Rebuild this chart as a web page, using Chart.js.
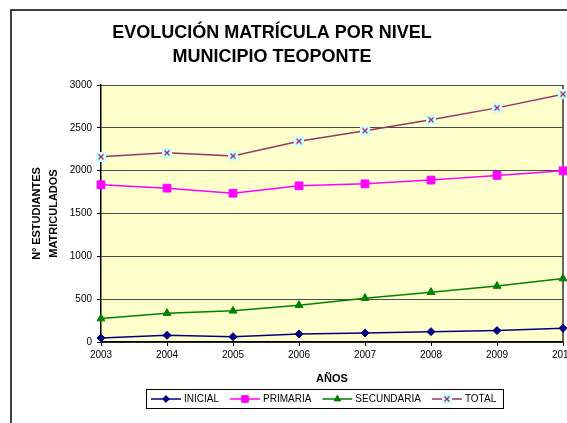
<!DOCTYPE html>
<html>
<head>
<meta charset="utf-8">
<script src="https://cdn.jsdelivr.net/npm/chart.js@4/dist/chart.umd.min.js"></script>
<style>
  html, body { margin: 0; padding: 0; background: #fff; }
  #wrap { width: 567px; height: 423px; overflow: hidden; }
  canvas { display: block; }
</style>
</head>
<body>
<div id="wrap"><canvas id="chart" width="620" height="423"></canvas></div>
<script>
// Data
const years = ['2003', '2004', '2005', '2006', '2007', '2008', '2009', '2010'];
const inicial = [47, 78, 62, 94, 106, 121, 133, 160];
const primaria = [1835, 1796, 1737, 1823, 1846, 1890, 1945, 1998];
const secundaria = [273, 336, 364, 430, 512, 582, 653, 740];
const total = [2162, 2208, 2170, 2344, 2466, 2594, 2733, 2893];
const seriesNames = ['INICIAL', 'PRIMARIA', 'SECUNDARIA', 'TOTAL'];
const yMin = 0, yMax = 3000, yStep = 500;
const titleLines = ['EVOLUCIÓN MATRÍCULA POR NIVEL', 'MUNICIPIO TEOPONTE'];
const yAxisTitle = ['Nº ESTUDIANTES', 'MATRICULADOS'];
const xAxisTitle = 'AÑOS';

// cyan box with an x, like the Excel marker
function totalMarker(size) {
    const c = document.createElement('canvas');
    c.width = size; c.height = size;
    const g = c.getContext('2d');
    g.fillStyle = '#CCFFFF';
    g.fillRect(0, 0, size, size);
    g.strokeStyle = '#993366';
    g.lineWidth = 1.4;
    const p = size * 0.25;
    g.beginPath();
    g.moveTo(p, p); g.lineTo(size - p, size - p);
    g.moveTo(size - p, p); g.lineTo(p, size - p);
    g.stroke();
    return c;
}

function makeSet(label, data, color, style, radius) {
    return {
        label: label,
        data: data,
        borderColor: color,
        backgroundColor: color,
        borderWidth: 1.5,
        pointStyle: style,
        pointRadius: radius,
        pointBorderWidth: 1,
        tension: 0,
        clip: false
    };
}

const framePlugin = {
    id: 'frame',
    beforeDraw(chart) {
        const ctx = chart.ctx, a = chart.chartArea;
        ctx.save();
        ctx.fillStyle = '#fff';
        ctx.fillRect(0, 0, chart.width, chart.height);
        ctx.fillStyle = '#FFFFCC';
        ctx.fillRect(a.left, a.top, a.right - a.left, a.bottom - a.top);
        ctx.strokeStyle = '#000';
        ctx.lineWidth = 1.5;
        ctx.strokeRect(11, 10, chart.width + 50, chart.height + 50);
        ctx.restore();
    },
    beforeDatasetsDraw(chart) {
        const ctx = chart.ctx, a = chart.chartArea;
        ctx.save();
        ctx.strokeStyle = '#333';
        ctx.lineWidth = 1.5;
        ctx.beginPath();
        ctx.moveTo(a.right, a.top);
        ctx.lineTo(a.right, a.bottom);
        ctx.stroke();
        ctx.restore();
    },
    afterDraw(chart) {
        const ctx = chart.ctx;
        ctx.save();
        // chart title
        ctx.fillStyle = '#000';
        ctx.font = 'bold 18px "Liberation Sans", Arial, sans-serif';
        ctx.textAlign = 'center';
        ctx.textBaseline = 'middle';
        ctx.fillText(titleLines[0], 272, 33);
        ctx.fillText(titleLines[1], 272, 57);

        // legend box
        const box = { left: 146, top: 389, width: 357, height: 19 };
        ctx.lineWidth = 1;
        ctx.strokeStyle = '#000';
        ctx.strokeRect(box.left + 0.5, box.top + 0.5, box.width, box.height);
        ctx.font = '10px "Liberation Sans", Arial, sans-serif';
        ctx.textAlign = 'left';
        const cy = box.top + box.height / 2 + 0.5;
        let x = box.left + 5;
        chart.data.datasets.forEach(function(ds) {
            ctx.strokeStyle = ds.borderColor;
            ctx.fillStyle = ds.backgroundColor;
            ctx.lineWidth = 1.5;
            ctx.beginPath();
            ctx.moveTo(x, cy);
            ctx.lineTo(x + 30, cy);
            ctx.stroke();
            ctx.lineWidth = 1;
            Chart.helpers.drawPoint(ctx, {
                pointStyle: ds.pointStyle,
                radius: ds.pointRadius * 0.85,
                rotation: 0,
                borderWidth: 1
            }, x + 15, cy);
            ctx.fillStyle = '#000';
            ctx.fillText(ds.label, x + 33, cy);
            x += 33 + ctx.measureText(ds.label).width + 11;
        });
        ctx.restore();
    }
};

const ctx = document.getElementById('chart').getContext('2d');
new Chart(ctx, {
    type: 'line',
    data: {
        labels: years,
        datasets: [
            makeSet(seriesNames[0], inicial, '#000080', 'rectRot', 4),
            makeSet(seriesNames[1], primaria, '#FF00FF', 'rect', 5.5),
            makeSet(seriesNames[2], secundaria, '#008000', 'triangle', 4.5),
            makeSet(seriesNames[3], total, '#993366', totalMarker(10), 5)
        ]
    },
    options: {
        responsive: false,
        animation: false,
        devicePixelRatio: 1,
        layout: { padding: { left: 20, right: 57, top: 85, bottom: 37 } },
        plugins: {
            legend: { display: false },
            title: { display: false },
            tooltip: { enabled: false }
        },
        scales: {
            x: {
                type: 'category',
                offset: false,
                grid: { drawOnChartArea: false, tickLength: 4, color: '#000' },
                border: { color: '#000', width: 1.5 },
                ticks: {
                    autoSkip: false, maxRotation: 0, padding: 3, color: '#000',
                    font: { family: '"Liberation Sans", Arial, sans-serif', size: 10 }
                },
                title: {
                    display: true, text: xAxisTitle, color: '#000', padding: 0,
                    font: { family: '"Liberation Sans", Arial, sans-serif', size: 11, weight: 'bold', lineHeight: 1.2 }
                },
                afterFit: function(scale) { scale.height = 44; }
            },
            y: {
                min: yMin, max: yMax,
                grid: { color: '#4d4d4d', lineWidth: 1, tickLength: 4, tickColor: '#000' },
                border: { color: '#000', width: 1.5 },
                ticks: {
                    stepSize: yStep, padding: 5, color: '#000',
                    font: { family: '"Liberation Sans", Arial, sans-serif', size: 10 },
                    callback: function(v) { return String(v); }
                },
                title: {
                    display: true, text: yAxisTitle, color: '#000', padding: { top: 8, bottom: 0 },
                    font: { family: '"Liberation Sans", Arial, sans-serif', size: 11, weight: 'bold', lineHeight: 1.6 }
                },
                afterFit: function(scale) { scale.width = 81; }
            }
        }
    },
    plugins: [framePlugin]
});
</script>
</body>
</html>
